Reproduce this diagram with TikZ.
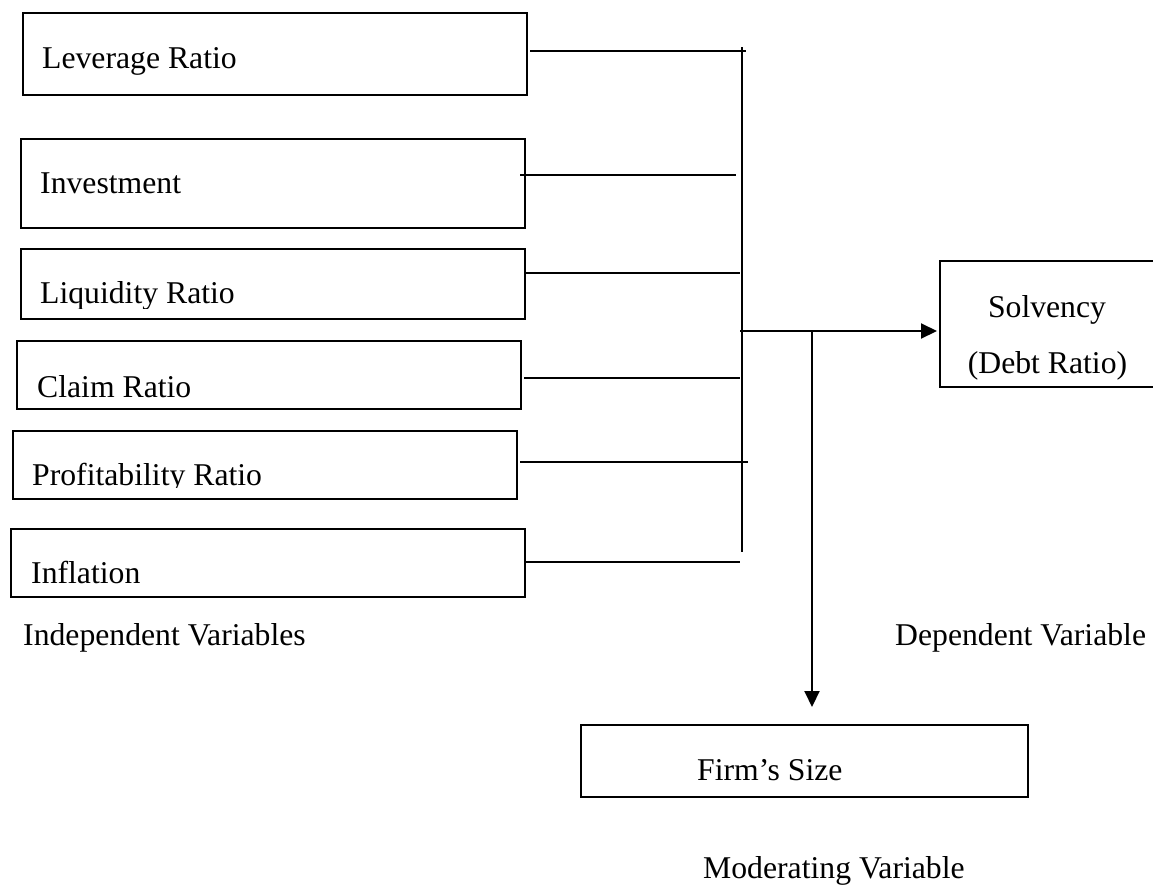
\documentclass[tikz,border=0pt]{standalone}
\usepackage{fontspec}
\setmainfont{Liberation Serif}
\usetikzlibrary{arrows.meta}
\begin{document}
\begin{tikzpicture}[x=1pt,y=-1pt,
  box/.style={draw, line width=2.2pt, inner sep=0pt, anchor=north west},
  txt/.style={anchor=base west, inner sep=0pt, font=\fontsize{31.7}{38}\selectfont},
  ctxt/.style={anchor=base, inner sep=0pt, font=\fontsize{31.7}{38}\selectfont},
  conn/.style={line width=1.9pt},
  arr/.style={line width=2pt, -{Triangle[length=16pt,width=15pt]}}]
\useasboundingbox (0,0) rectangle (1153,884);

% independent variable boxes
\node[box, minimum width=504pt, minimum height=82pt] (lev) at (22,12) {};
\node[box, minimum width=504pt, minimum height=89pt] (inv) at (20,138) {};
\node[box, minimum width=504pt, minimum height=70pt] (liq) at (20,248) {};
\node[box, minimum width=504pt, minimum height=68pt] (clm) at (16,340) {};
\node[box, minimum width=504pt, minimum height=68pt] (prf) at (12,430) {};
\node[box, minimum width=514pt, minimum height=68pt] (inf) at (10,528) {};

% dependent and moderating boxes
\node[box, minimum width=240pt, minimum height=126pt] (sol) at (939,260) {};
\node[box, minimum width=447pt, minimum height=72pt] (firm) at (580,724) {};

% box texts
\node[txt] (levt) at (42,68) {Leverage Ratio};
\node[txt] (invt) at (40,193) {Investment};
\begin{scope}
  \clip (0,250) rectangle (600,308);
  \node[txt] (liqt) at (40,303) {Liquidity Ratio};
\end{scope}
\node[txt] (clmt) at (37,397) {Claim Ratio};
\begin{scope}
  \clip (0,432) rectangle (600,487.5);
  \node[txt] (prft) at (32,485) {Profitability Ratio};
\end{scope}
\node[txt] (inft) at (31,583) {Inflation};
\node[ctxt] (solt1) at (1047,317) {Solvency};
\node[ctxt] (solt2) at (1047.5,373) {(Debt Ratio)};
\node[txt] (firmt) at (697,780) {Firm’s Size};

% captions
\node[txt] (indep) at (23,645) {Independent Variables};
\node[txt] (dep) at (895,645) {Dependent Variable};
\node[txt] (mod) at (703,878) {Moderating Variable};

% bus coordinates
\coordinate (b1) at (746,51);
\coordinate (b2) at (736,175);
\coordinate (b3) at (740,273);
\coordinate (b4) at (740,378);
\coordinate (b5) at (748,462);
\coordinate (b6) at (740,562);
\coordinate (bustop) at (742,47);
\coordinate (busbot) at (742,552);
\coordinate (jin) at (740,331);
\coordinate (jdown) at (812,331);

% connectors from boxes to bus
\draw[conn] ([xshift=2pt]lev.east |- b1) -- (b1);
\draw[conn] ([xshift=-6pt]inv.east |- b2) -- (b2);
\draw[conn] ([xshift=-2pt]liq.east |- b3) -- (b3);
\draw[conn] ([xshift=2pt]clm.east |- b4) -- (b4);
\draw[conn] ([xshift=2pt]prf.east |- b5) -- (b5);
\draw[conn] ([xshift=-2pt]inf.east |- b6) -- (b6);
\draw[conn] (bustop) -- (busbot);

% arrows
\draw[arr, shorten >=2pt] (jin) -- (jin -| sol.west);
\draw[arr, shorten >=17pt] (jdown) -- (jdown |- firm.north);
\end{tikzpicture}
\end{document}
